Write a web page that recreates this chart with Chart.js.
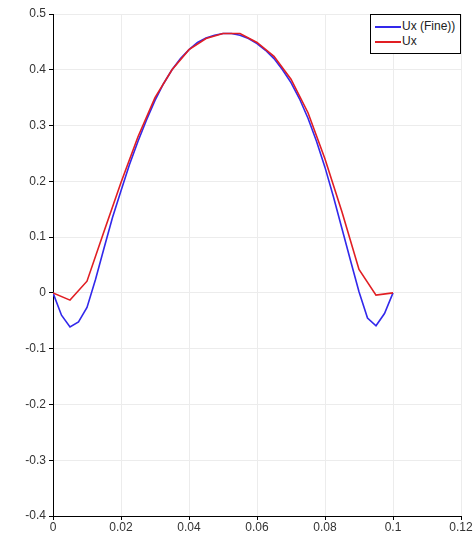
<!DOCTYPE html>
<html>
<head>
<meta charset="utf-8">
<script src="https://cdn.jsdelivr.net/npm/chart.js@4.4.0/dist/chart.umd.min.js"></script>
<style>
  html, body { margin: 0; padding: 0; background: #fff; }
  #wrap { position: relative; width: 476px; height: 535px; }
  #legend {
    position: absolute; left: 370px; top: 14px; width: 89px; height: 38px;
    border: 1px solid #000; background: #fff;
    font-family: "Liberation Sans", Arial, sans-serif; font-size: 12px; color: #222;
  }
  .row { position: absolute; left: 4px; height: 14px; line-height: 14px; }
  .row span.ln { display: inline-block; width: 26px; height: 0; border-top: 2px solid; vertical-align: middle; margin-right: 1px; }
</style>
</head>
<body>
<div id="wrap">
  <canvas id="myChart" width="476" height="535"></canvas>
  <div id="legend">
    <div class="row" style="top:4px"><span class="ln" style="border-color:rgb(50,40,235)"></span>Ux (Fine))</div>
    <div class="row" style="top:19px"><span class="ln" style="border-color:rgb(225,30,35)"></span>Ux</div>
  </div>
</div>
<script>
// fine mesh (blue)
const xFine = [0, 0.0025, 0.005, 0.0075, 0.01, 0.0125, 0.015, 0.0175, 0.02, 0.0225,
  0.025, 0.0275, 0.03, 0.0325, 0.035, 0.0375, 0.04, 0.0425, 0.045, 0.0475,
  0.05, 0.0525, 0.055, 0.0575, 0.06, 0.0625, 0.065, 0.0675, 0.07, 0.0725,
  0.075, 0.0775, 0.08, 0.0825, 0.085, 0.0875, 0.09, 0.0925, 0.095, 0.0975, 0.1];
const uxFine = [0, -0.04, -0.061, -0.052, -0.026, 0.024, 0.08, 0.135, 0.183, 0.23,
  0.272, 0.31, 0.345, 0.375, 0.4, 0.42, 0.436, 0.449, 0.457, 0.462,
  0.465, 0.465, 0.462, 0.456, 0.447, 0.435, 0.42, 0.4, 0.377, 0.348,
  0.313, 0.272, 0.225, 0.172, 0.115, 0.058, 0.002, -0.045, -0.059, -0.037, 0];

// coarse mesh (red)
const xCoarse = [0, 0.005, 0.01, 0.015, 0.02, 0.025, 0.03, 0.035, 0.04, 0.045, 0.05,
  0.055, 0.06, 0.065, 0.07, 0.075, 0.08, 0.085, 0.09, 0.095, 0.1];
const uxCoarse = [0, -0.013, 0.021, 0.11, 0.198, 0.28, 0.35, 0.4, 0.436, 0.456, 0.465,
  0.465, 0.449, 0.424, 0.383, 0.323, 0.24, 0.145, 0.042, -0.004, 0];

const xTicks = [0, 0.02, 0.04, 0.06, 0.08, 0.1, 0.12];
const yTicks = [-0.4, -0.3, -0.2, -0.1, 0, 0.1, 0.2, 0.3, 0.4, 0.5];

function pts(xs, ys) { return xs.map((x, i) => ({ x: x, y: ys[i] })); }
function fmt(v) { return String(Number(v.toFixed(3))); }

const tickFont = { family: '"Liberation Sans", Arial, sans-serif', size: 12 };

const ctx = document.getElementById('myChart').getContext('2d');
const myChart = new Chart(ctx, {
    type: 'scatter',
    data: {
        datasets: [{
            label: 'Ux',
            data: pts(xCoarse, uxCoarse),
            showLine: true,
            borderColor: 'rgb(225,30,35)',
            borderWidth: 1.6,
            pointRadius: 0,
            tension: 0,
            order: 0
        }, {
            label: 'Ux (Fine))',
            data: pts(xFine, uxFine),
            showLine: true,
            borderColor: 'rgb(50,40,235)',
            borderWidth: 1.6,
            pointRadius: 0,
            tension: 0,
            order: 1
        }]
    },
    options: {
        responsive: false,
        animation: false,
        layout: { padding: { top: 14, right: 15, left: 0, bottom: 0 } },
        plugins: { legend: { display: false }, tooltip: { enabled: false } },
        scales: {
            x: {
                type: 'linear',
                min: 0, max: 0.12,
                afterBuildTicks: s => { s.ticks = xTicks.map(v => ({ value: v })); },
                afterFit: s => { s.height = 19; },
                ticks: { callback: v => fmt(v), color: '#333', font: tickFont, padding: 0, maxRotation: 0 },
                grid: { color: '#ececec', tickColor: '#000', tickLength: 4 },
                border: { color: '#000', width: 1 }
            },
            y: {
                min: -0.4, max: 0.5,
                afterBuildTicks: s => { s.ticks = yTicks.map(v => ({ value: v })); },
                afterFit: s => { s.width = 53; },
                ticks: { callback: v => fmt(v), color: '#333', font: tickFont, padding: 3 },
                grid: { color: '#ececec', tickColor: '#000', tickLength: 4 },
                border: { color: '#000', width: 1 }
            }
        }
    }
});
</script>
</body>
</html>
